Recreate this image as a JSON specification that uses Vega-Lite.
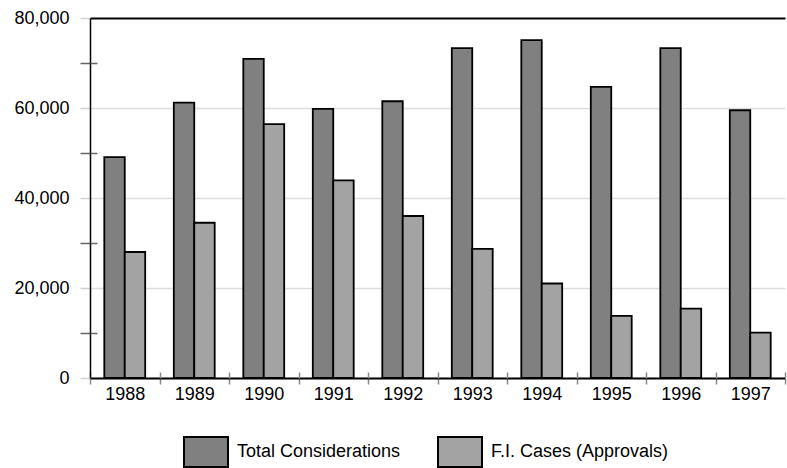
{
  "$schema": "https://vega.github.io/schema/vega-lite/v6.json",
  "width": 695,
  "height": 360,
  "autosize": {"type": "none"},
  "padding": {"left": 90, "top": 18, "right": 2, "bottom": 90},
  "background": "white",
  "config": {
    "view": {"stroke": null},
    "font": "Liberation Sans"
  },
  "data": {
    "values": [
      {"year": "1988", "series": "Total Considerations", "value": 49100},
      {"year": "1988", "series": "F.I. Cases (Approvals)", "value": 28000},
      {"year": "1989", "series": "Total Considerations", "value": 61200},
      {"year": "1989", "series": "F.I. Cases (Approvals)", "value": 34500},
      {"year": "1990", "series": "Total Considerations", "value": 70900},
      {"year": "1990", "series": "F.I. Cases (Approvals)", "value": 56400},
      {"year": "1991", "series": "Total Considerations", "value": 59800},
      {"year": "1991", "series": "F.I. Cases (Approvals)", "value": 43900},
      {"year": "1992", "series": "Total Considerations", "value": 61500},
      {"year": "1992", "series": "F.I. Cases (Approvals)", "value": 36000},
      {"year": "1993", "series": "Total Considerations", "value": 73300},
      {"year": "1993", "series": "F.I. Cases (Approvals)", "value": 28700},
      {"year": "1994", "series": "Total Considerations", "value": 75100},
      {"year": "1994", "series": "F.I. Cases (Approvals)", "value": 21000},
      {"year": "1995", "series": "Total Considerations", "value": 64700},
      {"year": "1995", "series": "F.I. Cases (Approvals)", "value": 13800},
      {"year": "1996", "series": "Total Considerations", "value": 73300},
      {"year": "1996", "series": "F.I. Cases (Approvals)", "value": 15400},
      {"year": "1997", "series": "Total Considerations", "value": 59500},
      {"year": "1997", "series": "F.I. Cases (Approvals)", "value": 10100}
    ]
  },
  "layer": [
    {
      "mark": {"type": "bar", "stroke": "#000", "strokeWidth": 1.8},
      "encoding": {
        "x": {
          "field": "year", "type": "nominal",
          "scale": {"paddingInner": 0, "paddingOuter": 0},
          "axis": {
            "orient": "bottom", "title": null, "labelAngle": 0,
            "labelFont": "Liberation Sans", "labelFontSize": 18, "labelColor": "#000",
            "domainColor": "#000", "domainWidth": 2,
            "tickBand": "extent", "tickColor": "#8a8a8a", "tickSize": 6, "tickWidth": 1.5,
            "labelPadding": 1
          }
        },
        "xOffset": {
          "field": "series", "type": "nominal",
          "scale": {"domain": ["Total Considerations", "F.I. Cases (Approvals)"], "paddingOuter": 0.7, "paddingInner": 0}
        },
        "y": {
          "field": "value", "type": "quantitative",
          "scale": {"domain": [0, 80000], "nice": false},
          "axis": {
            "orient": "left", "title": null,
            "values": [0, 10000, 20000, 30000, 40000, 50000, 60000, 70000, 80000],
            "labelExpr": "datum.value % 20000 === 0 ? format(datum.value, ',') : ''",
            "labelFont": "Liberation Sans", "labelFontSize": 18, "labelColor": "#000",
            "domainColor": "#000", "domainWidth": 1.5,
            "tickSize": 10, "tickWidth": 1.5,
            "tickColor": {"condition": {"test": "datum.value % 20000 === 0", "value": "#d0d0d0"}, "value": "#666666"},
            "labelPadding": 11,
            "grid": true,
            "gridColor": {"condition": {"test": "datum.value === 80000", "value": "#000000"}, "value": "#dddddd"},
            "gridWidth": {"condition": {"test": "datum.value === 80000", "value": 2}, "value": 1.5},
            "gridOpacity": {"condition": {"test": "datum.value % 20000 !== 0", "value": 0}, "value": 1}
          }
        },
        "color": {
          "field": "series", "type": "nominal",
          "scale": {"domain": ["Total Considerations", "F.I. Cases (Approvals)"], "range": ["#808080", "#a3a3a3"]},
          "legend": {
            "orient": "none", "legendX": 93, "legendY": 411, "padding": 0,
            "title": null, "direction": "horizontal",
            "labelFont": "Liberation Sans", "labelFontSize": 18, "labelColor": "#000", "labelLimit": 400,
            "symbolType": "M-1,-0.68H1V0.68H-1Z", "symbolSize": 1936,
            "symbolStrokeColor": "#000", "symbolStrokeWidth": 2, "symbolOpacity": 1,
            "labelOffset": 8, "columnPadding": 33
          }
        }
      }
    },
    {
      "mark": {"type": "bar", "opacity": 0},
      "encoding": {
        "x": {
          "field": "year", "type": "nominal",
          "axis": {
            "orient": "bottom", "title": null, "labels": false, "domain": false, "grid": false,
            "tickBand": "extent", "tickColor": "#8a8a8a", "tickSize": -6, "tickWidth": 1.5
          }
        },
        "xOffset": {"field": "series", "type": "nominal"},
        "y": {
          "field": "value", "type": "quantitative",
          "axis": {
            "orient": "left", "title": null, "labels": false, "domain": false, "grid": false,
            "values": [10000, 30000, 50000, 70000],
            "tickSize": -7, "tickWidth": 1.5, "tickColor": "#666666"
          }
        }
      }
    }
  ],
  "resolve": {"axis": {"x": "independent", "y": "independent"}}
}
